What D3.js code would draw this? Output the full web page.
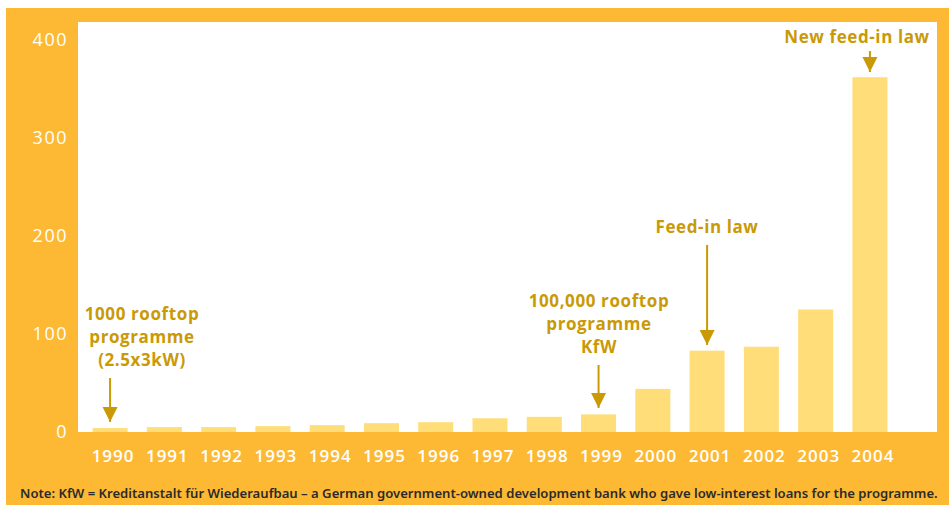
<!DOCTYPE html>
<html>
<head>
<meta charset="utf-8">
<script src="https://cdn.jsdelivr.net/npm/d3@7"></script>
<style>
  body { margin: 0; background: #fff; }
  svg { display: block; }
</style>
</head>
<body>
<div class="chart"></div>
<script>
// data (MWp installed, roughly)
const years = ['1990','1991','1992','1993','1994','1995','1996','1997','1998','1999','2000','2001','2002','2003','2004'];
const values = [4, 5, 5, 6, 7, 9, 10, 14, 15.5, 18, 44, 83, 87, 125, 362];
const yTicks = [0, 100, 200, 300, 400];

// annotations: year the arrow points to, text lines, where the text sits
const notes = [
  {year: '1990', lines: ['1000 rooftop', 'programme', '(2.5x3kW)'], tx: 142, ty: 320, a0: 378, a1: 422},
  {year: '1999', lines: ['100,000 rooftop', 'programme', 'KfW'], tx: 599, ty: 307, a0: 365, a1: 408},
  {year: '2001', lines: ['Feed-in law'], tx: 707, ty: 233, a0: 245, a1: 345},
  {year: '2004', lines: ['New feed-in law'], tx: 857, ty: 43, a0: 51, a1: 72}
];
const noteText = 'Note: KfW = Kreditanstalt für Wiederaufbau – a German government-owned development bank who gave low-interest loans for the programme.';

const W = 949, H = 505;
const orange = '#FDB933', barCol = '#FFDD78', gold = '#C99A06';
const plot = {left: 78, right: 937, top: 22, bottom: 432};

let svg = d3.select('.chart')
    .append('svg')
    .attr('width', W)
    .attr('height', H)
    .style('font-family', '"Open Sans", sans-serif');

svg.append('rect')
    .attr('x', 6).attr('y', 8)
    .attr('width', W - 6).attr('height', H - 8)
    .attr('fill', orange);

svg.append('rect')
    .attr('x', plot.left).attr('y', plot.top)
    .attr('width', plot.right - plot.left).attr('height', plot.bottom - plot.top)
    .attr('fill', '#fff');

const xScale = d3.scaleBand()
    .domain(years)
    .range([79, 901])
    .paddingInner(0.355)
    .paddingOuter(0.25);

const yScale = d3.scaleLinear()
    .domain([0, 400])
    .range([plot.bottom, 40]);

svg.selectAll('rect.bar')
    .data(values)
    .enter()
    .append('rect')
    .attr('class', 'bar')
    .attr('x', (d, i) => xScale(years[i]))
    .attr('y', d => yScale(d))
    .attr('width', xScale.bandwidth())
    .attr('height', d => yScale(0) - yScale(d))
    .attr('fill', barCol);

// y axis labels
const yAxis = d3.axisLeft(yScale).tickValues(yTicks).tickSize(0).tickPadding(0);
const gy = svg.append('g')
    .attr('transform', 'translate(68,0)')
    .call(yAxis);
gy.select('.domain').remove();
gy.selectAll('text')
    .attr('fill', '#fff')
    .attr('font-size', 18)
    .attr('font-weight', 500)
    .attr('letter-spacing', 1.5)
    .attr('font-family', '"Open Sans", sans-serif');

// x axis labels
const xAxis = d3.axisBottom(xScale).tickSize(0).tickPadding(0);
const gx = svg.append('g')
    .attr('transform', 'translate(3,' + 450 + ')')
    .call(xAxis);
gx.select('.domain').remove();
gx.selectAll('text')
    .attr('fill', '#fff')
    .attr('font-size', 17)
    .attr('font-weight', 600)
    .attr('letter-spacing', 1)
    .attr('font-family', '"Open Sans", sans-serif');

// arrowhead
svg.append('defs').append('marker')
    .attr('id', 'head')
    .attr('viewBox', '0 0 10 10')
    .attr('refX', 10).attr('refY', 5)
    .attr('markerUnits', 'userSpaceOnUse')
    .attr('markerWidth', 15).attr('markerHeight', 16)
    .attr('orient', 'auto')
    .append('path')
    .attr('d', 'M0,0 L10,5 L0,10 Z')
    .attr('fill', gold);

notes.forEach(n => {
    const cx = xScale(n.year) + xScale.bandwidth() / 2;
    let t = svg.append('text')
        .attr('text-anchor', 'middle')
        .attr('fill', gold)
        .attr('font-size', 17)
        .attr('font-weight', 700)
        .attr('letter-spacing', 0.6);
    n.lines.forEach((l, i) => {
        t.append('tspan').attr('x', n.tx).attr('y', n.ty + i * 23).text(l);
    });
    svg.append('line')
        .attr('x1', cx).attr('x2', cx)
        .attr('y1', n.a0).attr('y2', n.a1)
        .attr('stroke', gold)
        .attr('stroke-width', 2)
        .attr('marker-end', 'url(#head)');
});

svg.append('text')
    .text(noteText)
    .attr('x', 20)
    .attr('y', 498)
    .attr('fill', '#2b2b2b')
    .attr('font-size', 13.1)
    .attr('font-weight', 600)
    .attr('font-family', '"Noto Sans", sans-serif');
</script>
</body>
</html>
